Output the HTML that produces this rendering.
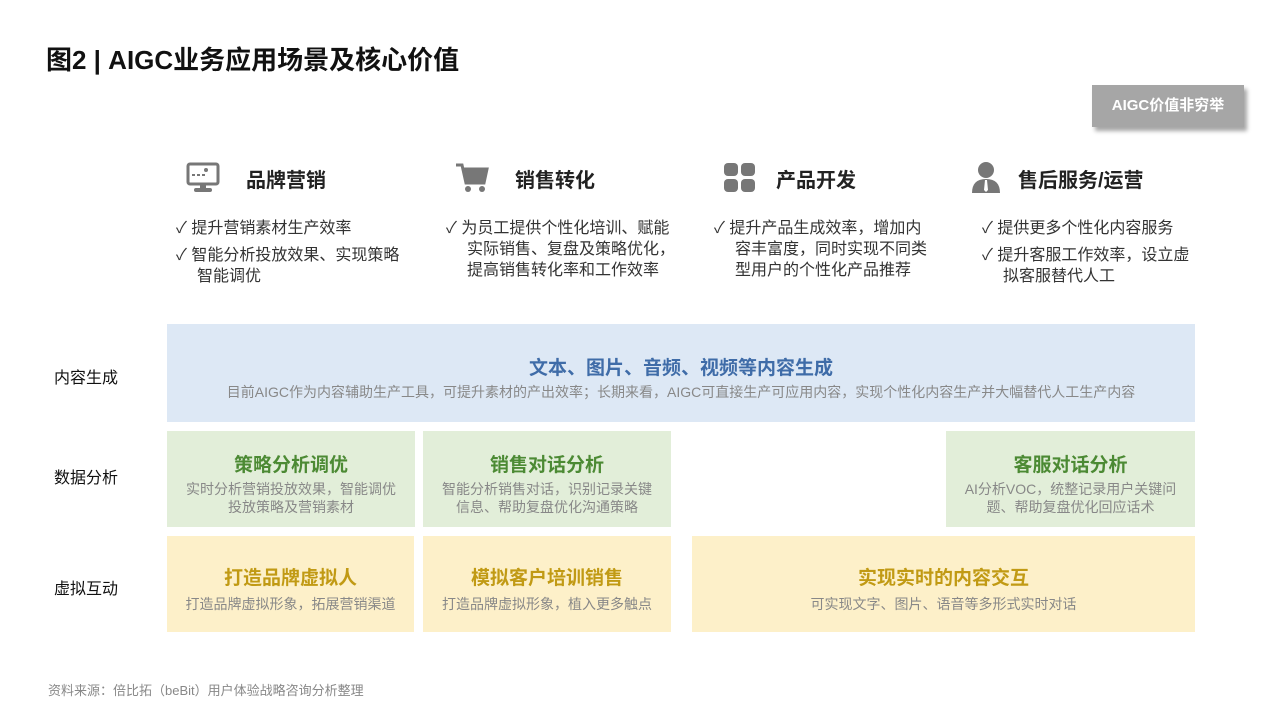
<!DOCTYPE html>
<html><head><meta charset="utf-8"><style>
body{margin:0;width:1280px;height:720px;background:#fff;position:relative;overflow:hidden;font-family:"Liberation Sans","Noto Sans CJK SC",sans-serif;color:#222}
.a{position:absolute}
.t{font-size:26px;font-weight:bold;left:46px;top:40px;color:#111}
.badge{left:1092px;top:85px;width:152px;height:42px;background:#a6a6a6;color:#fff;font-size:15px;font-weight:bold;text-align:center;line-height:42px;box-shadow:3px 4px 4px rgba(0,0,0,.35)}
.h{font-size:20px;font-weight:bold;color:#222}
.b{font-size:16px;color:#333;line-height:21px;white-space:nowrap}
.b div{padding-left:21px;text-indent:-21px;margin-bottom:6px}
.lab{font-size:16px;left:54px;color:#111}
.box{text-align:center}
.box .m{font-size:19px;font-weight:bold}
.box .s{font-size:14px;color:#888;line-height:18px}
.bl{background:#dde8f5}.gr{background:#e2eed9}.ye{background:#fdf0c9}
.bl .m{color:#3f6ca8}.gr .m{color:#4c8a34}.ye .m{color:#c19a14}
</style></head><body>
<div class="a t">图2 | AIGC业务应用场景及核心价值</div>
<div class="a badge">AIGC价值非穷举</div>

<svg class="a" style="left:186px;top:162px" width="34" height="32"><rect x="2" y="2" width="30" height="20" rx="2" fill="none" stroke="#777" stroke-width="3"/><rect x="6" y="12" width="3" height="2" fill="#777"/><rect x="11" y="12" width="3" height="2" fill="#777"/><rect x="16" y="12" width="3" height="2" fill="#777"/><circle cx="20" cy="8" r="2" fill="#777"/><rect x="14" y="22" width="6" height="4" fill="#777"/><rect x="8" y="26" width="18" height="4" rx="2" fill="#777"/></svg>
<div class="a h" style="left:246px;top:164px">品牌营销</div>
<svg class="a" style="left:455px;top:162px" width="34" height="32"><path d="M1 3h6l4 18h18l3-14H9" fill="none" stroke="#777" stroke-width="3"/><path d="M9 7h23l-3 14H11z" fill="#777"/><circle cx="13" cy="27" r="3" fill="#777"/><circle cx="27" cy="27" r="3" fill="#777"/></svg>
<div class="a h" style="left:515px;top:164px">销售转化</div>
<svg class="a" style="left:723px;top:162px" width="34" height="32"><rect x="1" y="1" width="14" height="13" rx="4" fill="#777"/><rect x="18" y="1" width="14" height="13" rx="4" fill="#777"/><rect x="1" y="17" width="14" height="13" rx="4" fill="#777"/><rect x="18" y="17" width="14" height="13" rx="4" fill="#777"/></svg>
<div class="a h" style="left:776px;top:164px">产品开发</div>
<svg class="a" style="left:970px;top:160px" width="32" height="34"><circle cx="16" cy="10" r="8" fill="#777"/><path d="M2 33q0-14 14-14q14 0 14 14z" fill="#777"/><path d="M15 20h2l1 10-2 2-2-2z" fill="#fff"/></svg>
<div class="a h" style="left:1018px;top:164px">售后服务/运营</div>

<div class="a b" style="left:176px;top:218px"><div>✓ 提升营销素材生产效率</div><div>✓ 智能分析投放效果、实现策略<br>智能调优</div></div>
<div class="a b" style="left:446px;top:218px"><div>✓ 为员工提供个性化培训、赋能<br>实际销售、复盘及策略优化，<br>提高销售转化率和工作效率</div></div>
<div class="a b" style="left:714px;top:218px"><div>✓ 提升产品生成效率，增加内<br>容丰富度，同时实现不同类<br>型用户的个性化产品推荐</div></div>
<div class="a b" style="left:982px;top:218px"><div>✓ 提供更多个性化内容服务</div><div>✓ 提升客服工作效率，设立虚<br>拟客服替代人工</div></div>

<div class="a lab" style="top:364px">内容生成</div>
<div class="a lab" style="top:464px">数据分析</div>
<div class="a lab" style="top:575px">虚拟互动</div>

<div class="a box bl" style="left:167px;top:324px;width:1028px;height:98px"><div class="m" style="margin-top:29px">文本、图片、音频、视频等内容生成</div><div class="s" style="margin-top:3px">目前AIGC作为内容辅助生产工具，可提升素材的产出效率；长期来看，AIGC可直接生产可应用内容，实现个性化内容生产并大幅替代人工生产内容</div></div>

<div class="a box gr" style="left:167px;top:431px;width:248px;height:96px"><div class="m" style="margin-top:19px">策略分析调优</div><div class="s" style="margin-top:3px">实时分析营销投放效果，智能调优<br>投放策略及营销素材</div></div>
<div class="a box gr" style="left:423px;top:431px;width:248px;height:96px"><div class="m" style="margin-top:19px">销售对话分析</div><div class="s" style="margin-top:3px">智能分析销售对话，识别记录关键<br>信息、帮助复盘优化沟通策略</div></div>
<div class="a box gr" style="left:946px;top:431px;width:249px;height:96px"><div class="m" style="margin-top:19px">客服对话分析</div><div class="s" style="margin-top:3px">AI分析VOC，统整记录用户关键问<br>题、帮助复盘优化回应话术</div></div>

<div class="a box ye" style="left:167px;top:536px;width:247px;height:96px"><div class="m" style="margin-top:27px">打造品牌虚拟人</div><div class="s" style="margin-top:5px">打造品牌虚拟形象，拓展营销渠道</div></div>
<div class="a box ye" style="left:423px;top:536px;width:248px;height:96px"><div class="m" style="margin-top:27px">模拟客户培训销售</div><div class="s" style="margin-top:5px">打造品牌虚拟形象，植入更多触点</div></div>
<div class="a box ye" style="left:692px;top:536px;width:503px;height:96px"><div class="m" style="margin-top:27px">实现实时的内容交互</div><div class="s" style="margin-top:5px">可实现文字、图片、语音等多形式实时对话</div></div>

<div class="a" style="left:48px;top:680px;font-size:13px;color:#888">资料来源：倍比拓（beBit）用户体验战略咨询分析整理</div>
</body></html>
